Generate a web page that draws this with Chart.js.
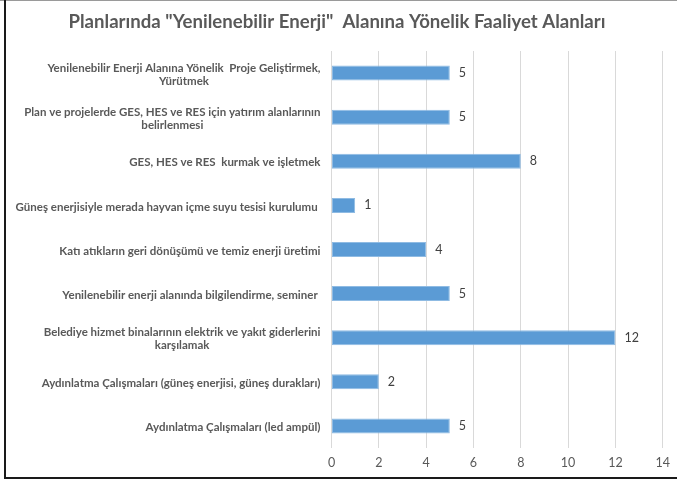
<!DOCTYPE html>
<html>
<head>
<meta charset="utf-8">
<script src="https://cdn.jsdelivr.net/npm/chart.js@4.4.1/dist/chart.umd.min.js"></script>
<style>
  html, body { margin: 0; padding: 0; background: #fff; }
  #wrap { width: 677px; height: 482px; position: relative; }
</style>
</head>
<body>
<div id="wrap"><canvas id="myChart" width="677" height="482"></canvas></div>
<script>
const titleText = 'Planlarında "Yenilenebilir Enerji"  Alanına Yönelik Faaliyet Alanları';

const categories = [
  ['Yenilenebilir Enerji Alanına Yönelik  Proje Geliştirmek,', 'Yürütmek'],
  ['Plan ve projelerde GES, HES ve RES için yatırım alanlarının', 'belirlenmesi'],
  ['GES, HES ve RES  kurmak ve işletmek'],
  ['Güneş enerjisiyle merada hayvan içme suyu tesisi kurulumu '],
  ['Katı atıkların geri dönüşümü ve temiz enerji üretimi'],
  ['Yenilenebilir enerji alanında bilgilendirme, seminer '],
  ['Belediye hizmet binalarının elektrik ve yakıt giderlerini', 'karşılamak'],
  ['Aydınlatma Çalışmaları (güneş enerjisi, güneş durakları)'],
  ['Aydınlatma Çalışmaları (led ampül)']
];

const values = [5, 5, 8, 1, 4, 5, 12, 2, 5];

const xTicks = [0, 2, 4, 6, 8, 10, 12, 14];

const FONT = 'Lato, "Noto Sans", sans-serif';

// frame like the exported picture: grey top, dark left and bottom
const framePlugin = {
  id: 'frame',
  beforeDraw: (chart) => {
    const ctx = chart.ctx;
    ctx.save();
    ctx.fillStyle = '#fff';
    ctx.fillRect(0, 0, chart.width, chart.height);
    ctx.fillStyle = '#9a9a9a';
    ctx.fillRect(0, 0, chart.width, 1);
    ctx.fillStyle = '#1a1a1a';
    ctx.fillRect(4, 0, 2, chart.height - 3);
    ctx.fillRect(4, chart.height - 5, chart.width - 4, 2);
    ctx.restore();
  }
};

// title centred on the whole picture
const titlePlugin = {
  id: 'bigTitle',
  afterDraw: (chart) => {
    const ctx = chart.ctx;
    ctx.save();
    ctx.font = 'bold 18.6px ' + FONT;
    ctx.fillStyle = '#595959';
    ctx.textAlign = 'center';
    ctx.textBaseline = 'middle';
    ctx.fillText(titleText, 337, 22);
    ctx.restore();
  }
};

// category labels: block right aligned, lines centred inside the block
const catLabelPlugin = {
  id: 'catLabels',
  afterDraw: (chart) => {
    const ctx = chart.ctx;
    const yScale = chart.scales.y;
    const right = chart.chartArea.left - 11;
    const lineH = 13;
    ctx.save();
    ctx.font = 'bold 11.5px ' + FONT;
    ctx.fillStyle = '#595959';
    ctx.textAlign = 'center';
    ctx.textBaseline = 'middle';
    categories.forEach((lines, i) => {
      const w = Math.max(...lines.map(l => ctx.measureText(l).width));
      const cx = right - w / 2;
      const cy = yScale.getPixelForValue(i) + 1.5;
      lines.forEach((l, j) => {
        ctx.fillText(l, cx, cy + (j - (lines.length - 1) / 2) * lineH);
      });
    });
    ctx.restore();
  }
};

// value labels at bar ends
const valueLabelPlugin = {
  id: 'valueLabels',
  afterDatasetsDraw: (chart) => {
    const ctx = chart.ctx;
    const meta = chart.getDatasetMeta(0);
    ctx.save();
    ctx.font = '12.5px ' + FONT;
    ctx.fillStyle = '#404040';
    ctx.textAlign = 'left';
    ctx.textBaseline = 'middle';
    meta.data.forEach((bar, i) => {
      ctx.fillText(String(values[i]), bar.x + 9, bar.y);
    });
    ctx.restore();
  }
};

const ctx = document.getElementById('myChart').getContext('2d');
new Chart(ctx, {
  type: 'bar',
  data: {
    labels: categories,
    datasets: [{
      data: values,
      backgroundColor: '#5b9bd5',
      borderColor: '#8fbbe3',
      borderWidth: 1,
      borderSkipped: false,
      categoryPercentage: 1,
      barPercentage: 0.34
    }]
  },
  options: {
    indexAxis: 'y',
    responsive: false,
    animation: false,
    devicePixelRatio: 1,
    layout: { padding: { left: 323.5, right: 8, top: 51, bottom: 5 } },
    plugins: {
      legend: { display: false },
      tooltip: { enabled: false },
      title: { display: false }
    },
    scales: {
      x: {
        min: 0,
        max: 14,
        afterBuildTicks: (scale) => { scale.ticks = xTicks.map(v => ({ value: v })); },
        grid: { color: '#d9d9d9', drawTicks: false },
        border: { display: false },
        ticks: { color: '#595959', font: { family: FONT, size: 12.5 }, padding: 7 }
      },
      y: {
        grid: { display: false },
        border: { display: false },
        ticks: { display: false }
      }
    }
  },
  plugins: [framePlugin, titlePlugin, catLabelPlugin, valueLabelPlugin]
});
</script>
</body>
</html>
